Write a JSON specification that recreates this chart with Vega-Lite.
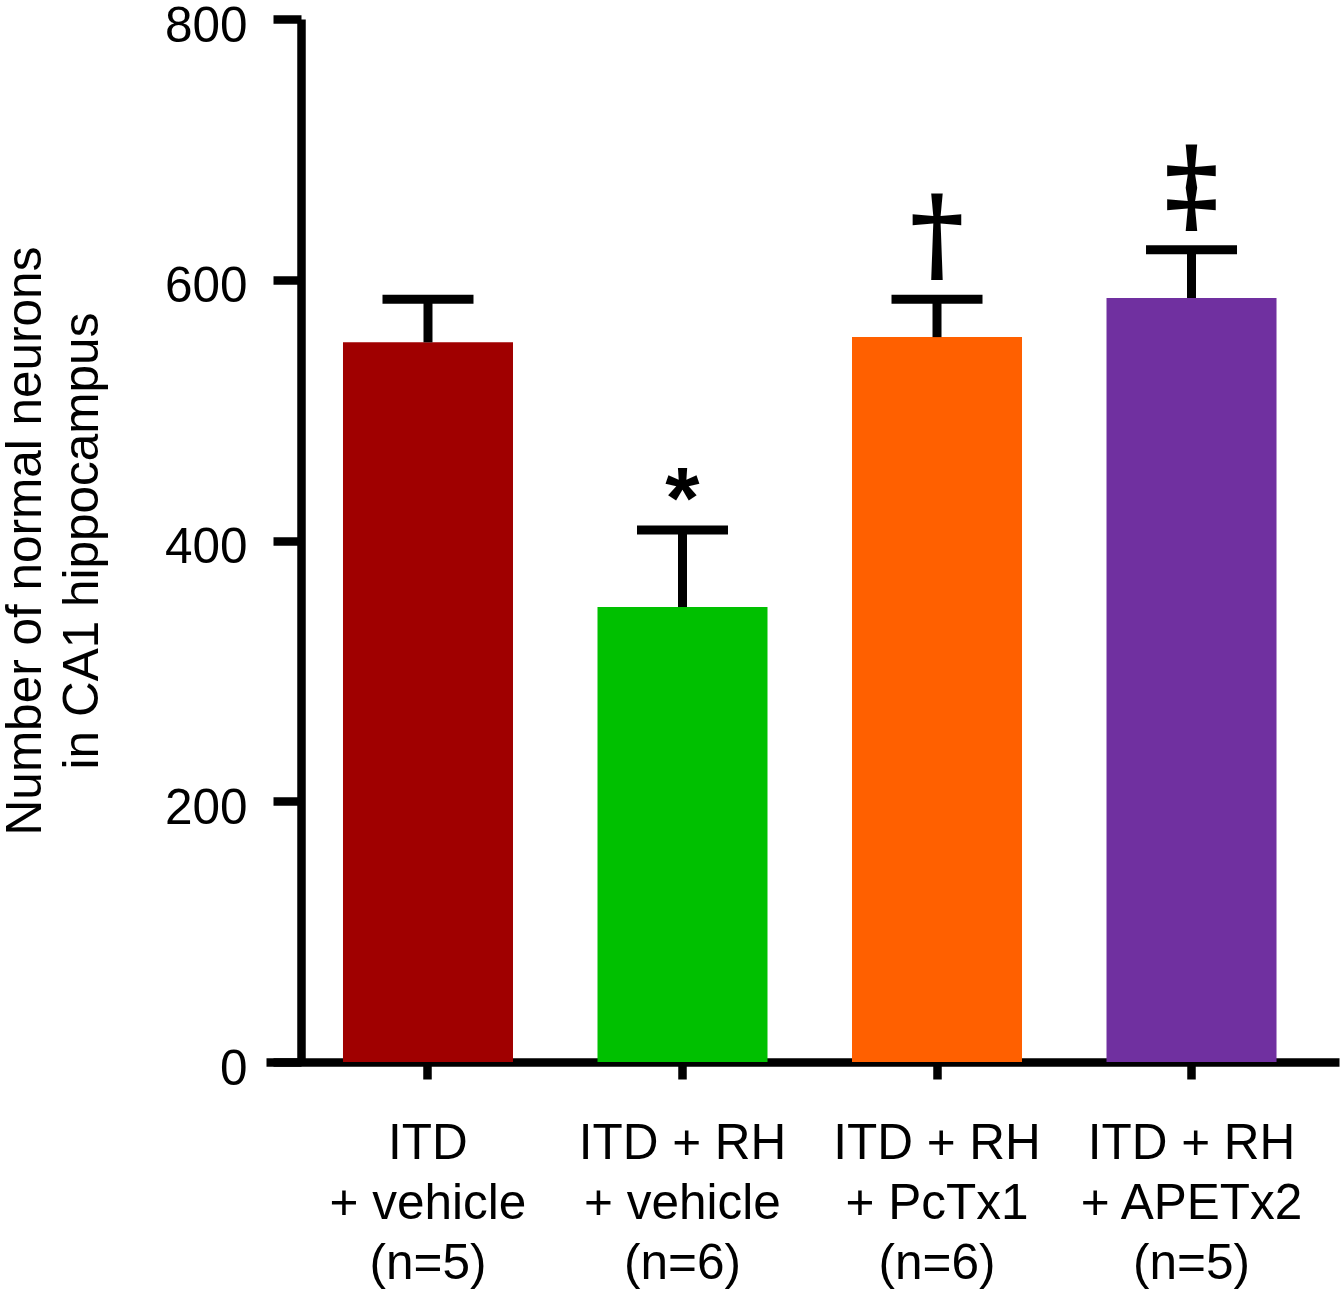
{
  "$schema": "https://vega.github.io/schema/vega-lite/v6.json",
  "autosize": {"type": "none"},
  "padding": {"left": 266, "top": 19, "right": 5, "bottom": 236},
  "width": 1073,
  "height": 1043,
  "background": "white",
  "config": {
    "view": {"stroke": null},
    "font": "Liberation Sans",
    "axis": {
      "domainColor": "black",
      "tickColor": "black",
      "labelColor": "black",
      "titleColor": "black",
      "labelFont": "Liberation Sans",
      "titleFont": "Liberation Sans",
      "grid": false
    }
  },
  "data": {
    "values": [
      {"group": "ITD|+ vehicle|(n=5)", "mean": 552, "upper": 585, "sig": ""},
      {"group": "ITD + RH|+ vehicle|(n=6)", "mean": 349, "upper": 408, "sig": "*"},
      {"group": "ITD + RH|+ PcTx1|(n=6)", "mean": 556, "upper": 585, "sig": "†"},
      {"group": "ITD + RH|+ APETx2|(n=5)", "mean": 586, "upper": 623, "sig": "‡"}
    ]
  },
  "encoding": {
    "x": {
      "field": "group",
      "type": "nominal",
      "sort": null,
      "scale": {"paddingInner": 0.332, "paddingOuter": 0.274, "align": 0.552},
      "axis": {
        "title": null,
        "labelAngle": 0,
        "labelExpr": "split(datum.label, '|')",
        "labelFontSize": 49.5,
        "labelLineHeight": 60,
        "labelPadding": 40,
        "labelLimit": 0,
        "labelBaseline": "top",
        "domainWidth": 8.5,
        "tickWidth": 8.5,
        "tickSize": 17
      }
    }
  },
  "layer": [
    {
      "mark": {"type": "bar"},
      "encoding": {
        "y": {
          "field": "mean",
          "type": "quantitative",
          "scale": {"domain": [0, 800], "nice": false},
          "axis": {
            "title": ["Number of normal neurons", "in CA1 hippocampus"],
            "titleFontSize": 49.5,
            "titleFontWeight": "normal",
            "titleLineHeight": 57,
            "titlePadding": 57,
            "titleLimit": 0,
            "values": [0, 200, 400, 600, 800],
            "offset": -35,
            "labelFontSize": 49.5,
            "labelPadding": 26,
            "labelBaseline": "alphabetic",
            "labelOffset": 22,
            "domainWidth": 8.5,
            "tickWidth": 8.5,
            "tickSize": 28
          }
        },
        "color": {
          "field": "group",
          "type": "nominal",
          "legend": null,
          "scale": {
            "domain": ["ITD|+ vehicle|(n=5)", "ITD + RH|+ vehicle|(n=6)", "ITD + RH|+ PcTx1|(n=6)", "ITD + RH|+ APETx2|(n=5)"],
            "range": ["#A00000", "#00C000", "#FF6000", "#7030A0"]
          }
        }
      }
    },
    {
      "mark": {"type": "rule", "color": "black", "strokeWidth": 9},
      "encoding": {
        "y": {"field": "mean", "type": "quantitative"},
        "y2": {"field": "upper"}
      }
    },
    {
      "mark": {"type": "tick", "color": "black", "size": 91, "thickness": 9, "opacity": 1},
      "encoding": {
        "y": {"field": "upper", "type": "quantitative"}
      }
    },
    {
      "transform": [{"filter": "datum.sig == '*'"}],
      "mark": {"type": "text", "font": "Liberation Sans", "fontWeight": "bold", "fontSize": 88, "baseline": "alphabetic", "align": "center", "dy": -2, "color": "black"},
      "encoding": {
        "y": {"field": "upper", "type": "quantitative"},
        "text": {"field": "sig"}
      }
    },
    {
      "transform": [{"filter": "datum.sig == '†' || datum.sig == '‡'"}],
      "mark": {"type": "text", "font": "DejaVu Serif", "fontWeight": "bold", "fontSize": 104, "baseline": "alphabetic", "align": "center", "dy": -29, "color": "black"},
      "encoding": {
        "y": {"field": "upper", "type": "quantitative"},
        "text": {"field": "sig"}
      }
    }
  ]
}
